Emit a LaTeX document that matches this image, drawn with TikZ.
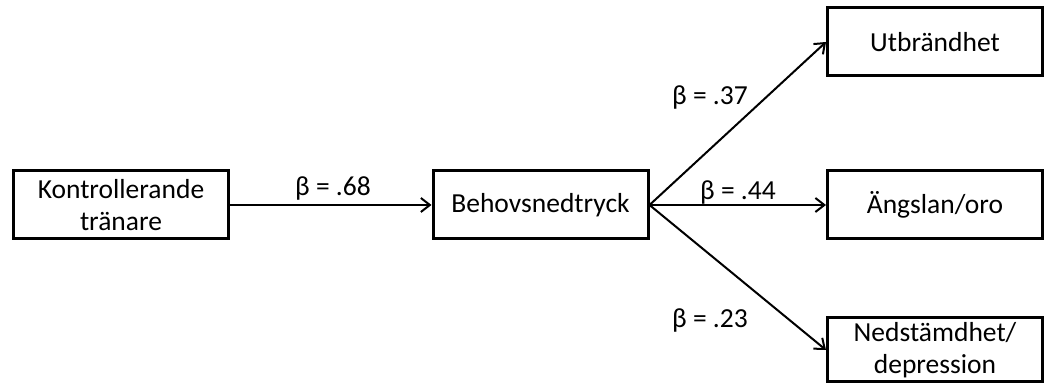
\documentclass[tikz,border=0pt]{standalone}
\usepackage{fontspec}
\setmainfont{Carlito}
\usetikzlibrary{arrows.meta}
\begin{document}
\begin{tikzpicture}[x=1pt,y=1pt,
  box/.style={draw=black, line width=3pt, minimum width=215pt, minimum height=68pt, inner sep=0pt, align=center, font=\fontsize{27.5}{32}\selectfont},
  conn/.style={line width=2pt, -{Straight Barb[length=9pt,width=14pt,line width=2pt]}},
  lab/.style={font=\fontsize{27.5}{32}\selectfont, inner sep=0pt}]
\useasboundingbox (0,0) rectangle (1047,385);
\node[box] (k) at (121,180) {Kontrollerande\\tränare};
\node[box] (b) at (540.5,180) {Behovsnedtryck};
\node[box] (u) at (935,343) {Utbrändhet};
\node[box] (a) at (935,180) {Ängslan/oro};
\node[box, minimum height=64pt] (n) at (935,35) {Nedstämdhet/\\depression};
\draw[conn] (k) -- (b);
\draw[conn] (b.east) -- (u.west);
\draw[conn] (b.east) -- (a.west);
\draw[conn] (b.east) -- (n.west);
\node[lab] (l1) at (333,197) {β = .68};
\node[lab] (l2) at (738,193) {β = .44};
\node[lab] (l3) at (710,288) {β = .37};
\node[lab] (l4) at (710,65) {β = .23};
\end{tikzpicture}
\end{document}
